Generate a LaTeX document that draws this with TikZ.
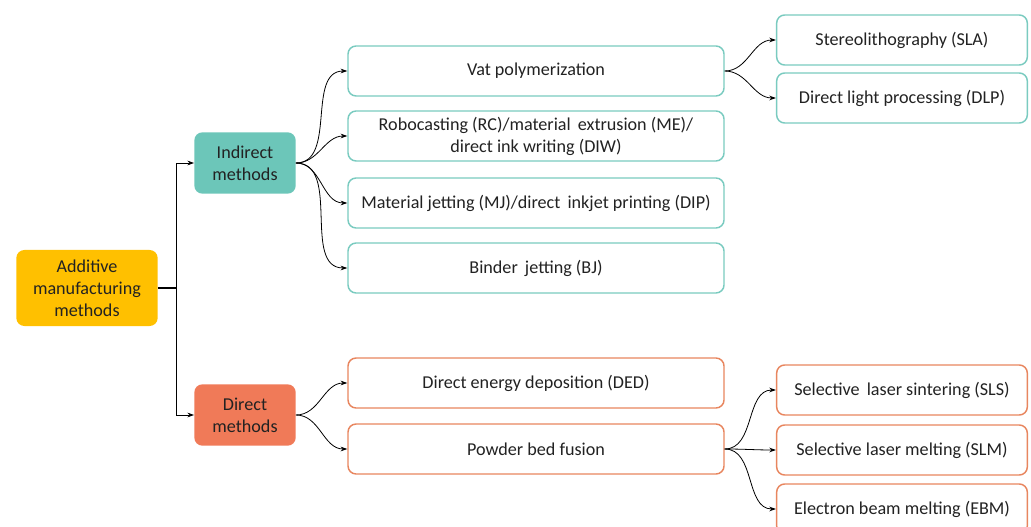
\documentclass[tikz,border=0pt]{standalone}
\usepackage{fontspec}
\setmainfont{Carlito}
\usetikzlibrary{arrows.meta}

\definecolor{amyellow}{HTML}{FFC000}
\definecolor{amteal}{HTML}{6CC6B9}
\definecolor{amtealline}{HTML}{7ACBC0}
\definecolor{amorange}{HTML}{F07A58}
\definecolor{amorangeline}{HTML}{E8865F}
\definecolor{amtext}{HTML}{222222}

\tikzset{
  box/.style={rounded corners=6pt, minimum height=37.5pt, align=center,
    text=amtext, font=\fontsize{13.6}{16.5}\selectfont, inner sep=0pt},
  rootbox/.style={box, fill=amyellow, minimum width=106pt, minimum height=57pt},
  groupbox/.style={box, minimum width=76pt, minimum height=46pt},
  leafbox/.style={box, draw, line width=1.1pt, fill=white},
  ind/.style={leafbox, draw=amtealline},
  dir/.style={leafbox, draw=amorangeline},
  mid/.style={minimum width=282pt},
  far/.style={minimum width=188pt},
  link/.style={-{Stealth[length=5pt,width=3.5pt]}, line width=0.6pt, black},
  fan/.style={link, out=0, in=180}
}

\begin{document}
\begin{tikzpicture}[x=0.75pt, y=-0.75pt]
  \useasboundingbox (0,0) rectangle (1031,527);

  \node[rootbox] (am) at (87,288) {Additive\\manufacturing\\methods};
  \node[groupbox, fill=amteal] (indirect) at (245,163) {Indirect\\methods};
  \node[groupbox, fill=amorange] (direct) at (245,415) {Direct\\methods};

  \node[ind, mid] (vat) at (536,71) {Vat polymerization};
  \node[ind, mid] (rc)  at (536,136) {Robocasting (RC)/material\, extrusion (ME)/\\direct ink writing (DIW)};
  \node[ind, mid] (mj)  at (536,203) {Material jetting (MJ)/direct\, inkjet printing (DIP)};
  \node[ind, mid] (bj)  at (536,268) {Binder\, jetting (BJ)};
  \node[ind, far] (sla) at (902,40) {Stereolithography (SLA)};
  \node[ind, far] (dlp) at (902,98) {Direct light processing (DLP)};

  \node[dir, mid] (ded) at (536,383) {Direct energy deposition (DED)};
  \node[dir, mid] (pbf) at (536,449) {Powder bed fusion};
  \node[dir, far] (sls) at (902,390) {Selective\, laser sintering (SLS)};
  \node[dir, far] (slm) at (902,450) {Selective laser melting (SLM)};
  \node[dir, far] (ebm) at (902,509) {Electron beam melting (EBM)};

  \coordinate (split) at (176,288);
  \draw[line width=0.8pt] (am.east) -- (split);
  \draw[link] (split) |- (indirect.west);
  \draw[link] (split) |- (direct.west);

  \foreach \t in {vat,rc,mj,bj}
    \draw[fan] (indirect.east) to (\t.west);
  \foreach \t in {sla,dlp}
    \draw[fan] (vat.east) to (\t.west);
  \foreach \t in {ded,pbf}
    \draw[fan] (direct.east) to (\t.west);
  \foreach \t in {sls,slm,ebm}
    \draw[fan] (pbf.east) to (\t.west);
\end{tikzpicture}
\end{document}
